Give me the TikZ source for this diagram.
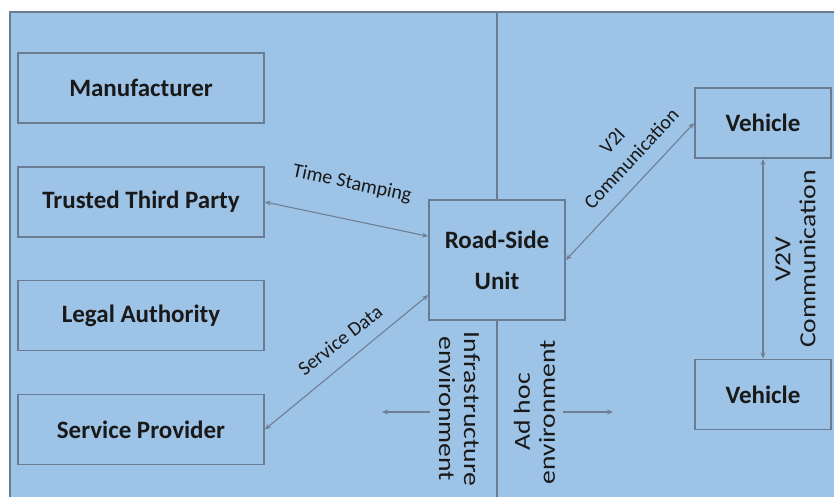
\documentclass[tikz,border=0pt]{standalone}
\usepackage{fontspec}
\setmainfont{Carlito}
\newfontfamily\tallfont[FakeStretch=1.2]{Carlito}
\usetikzlibrary{arrows.meta}
\definecolor{panelblue}{RGB}{157, 195, 230}
\definecolor{boxedge}{RGB}{104, 124, 148}
\definecolor{linkgray}{RGB}{112, 128, 148}
\definecolor{inkdark}{RGB}{25, 25, 25}

\begin{document}
\begin{tikzpicture}[x=1pt, y=-1pt,
    entity/.style={draw=boxedge, line width=1.8pt, inner sep=0pt,
        minimum width=246pt, minimum height=70pt, text=inkdark,
        font=\fontsize{25}{30}\selectfont\bfseries},
    vehiclebox/.style={entity, minimum width=136pt},
    link/.style={draw=linkgray, line width=1.1pt,
        {Stealth[length=6pt, width=5pt]}-{Stealth[length=6pt, width=5pt]}},
    envlink/.style={draw=linkgray, line width=1.1pt,
        -{Stealth[length=6pt, width=5pt]}},
    linklabel/.style={text=inkdark, align=center, inner sep=0pt,
        font=\fontsize{20}{26}\selectfont},
    envlabel/.style={text=inkdark, align=center, inner sep=0pt,
        font=\tallfont\fontsize{23}{25}\selectfont}]
    \useasboundingbox (0, 0) rectangle (834, 497);
    \fill[panelblue] (10, 12) rectangle (834, 497);
    \draw[boxedge, line width=2pt] (10, 497) -- (10, 12) -- (834, 12);

    % left column
    \node[entity] (maker) at (141, 88) {Manufacturer};
    \node[entity] (ttp) at (141, 202) {Trusted Third Party};
    \node[entity] (legal) at (141, 315.5) {Legal Authority};
    \node[entity] (provider) at (141, 429.5) {Service Provider};

    % road-side unit and divider
    \node[entity, minimum width=136pt, minimum height=120pt, align=center,
          font=\fontsize{25}{41}\selectfont\bfseries]
        (rsu) at (497, 260) {Road-Side\\Unit};
    \coordinate (divtop) at (497, 12);
    \coordinate (divbot) at (497, 497);
    \draw[boxedge, line width=2pt] (divtop) -- (rsu.north);
    \draw[boxedge, line width=2pt] (rsu.south) -- (divbot);

    % vehicles
    \node[vehiclebox] (car1) at (763, 123) {Vehicle};
    \node[vehiclebox] (car2) at (763, 394.5) {Vehicle};

    \draw[link] (ttp.east) -- (rsu.161);
    \draw[link] (provider.east) -- (rsu.207);
    \draw[link] (rsu.east) -- (car1.west);
    \draw[link] (car1.south) -- (car2.north);

    \node[linklabel, rotate=-12] (stamp) at (352, 184) {Time Stamping};
    \node[linklabel, rotate=38] (sdata) at (340, 340) {Service Data};
    \node[linklabel, rotate=47] (v2i) at (622, 150) {V2I\\Communication};
    \node[envlabel, rotate=90] (v2v) at (795.5, 259) {V2V\\Communication};

    % environments
    \node[envlabel, rotate=-90] (infra) at (459.5, 409) {Infrastructure\\environment};
    \node[envlabel, rotate=90] (adhoc) at (534.5, 412) {Ad hoc\\environment};
    \coordinate (infrastart) at (430, 412);
    \coordinate (infraend) at (382, 412);
    \coordinate (adhocstart) at (563, 412);
    \coordinate (adhocend) at (613, 412);
    \draw[envlink] (infrastart) -- (infraend);
    \draw[envlink] (adhocstart) -- (adhocend);
\end{tikzpicture}
\end{document}
